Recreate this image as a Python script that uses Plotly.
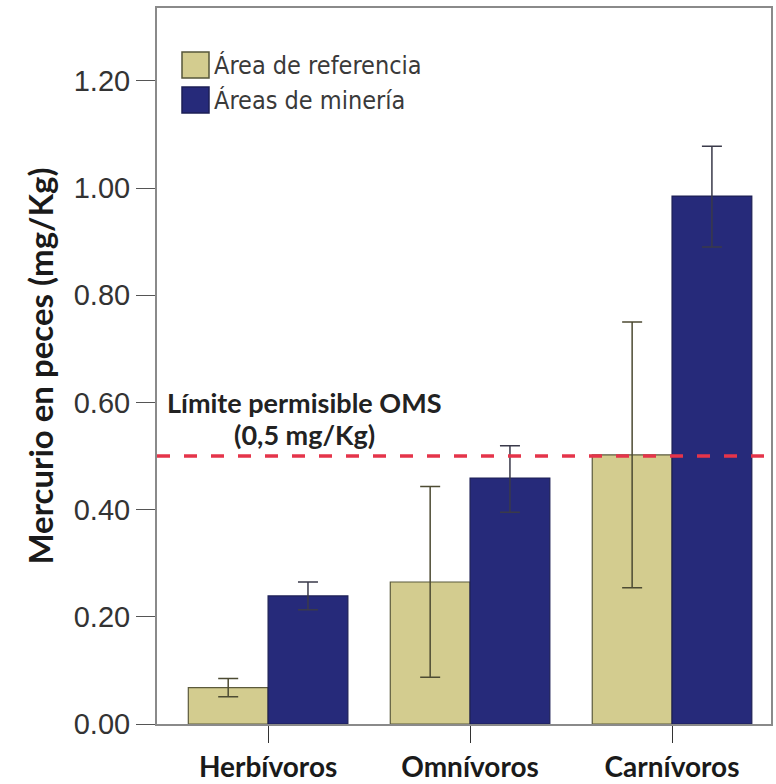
import plotly.graph_objects as go

categories = ["Herbívoros", "Omnívoros", "Carnívoros"]
ref_values = [0.068, 0.265, 0.502]
ref_err = [0.017, 0.178, 0.248]
min_values = [0.239, 0.459, 0.985]
min_err_plus = [0.026, 0.060, 0.093]
min_err_minus = [0.026, 0.064, 0.095]
series_names = ["Área de referencia", "Áreas de minería"]
y_ticks = [0.0, 0.2, 0.4, 0.6, 0.8, 1.0, 1.2]
limit_value = 0.5
limit_text = ["Límite permisible OMS", "(0,5 mg/Kg)"]

tan = "#d3cc8f"
navy = "#262a7a"

fig = go.Figure()
fig.add_trace(go.Bar(
    x=categories, y=ref_values, name=series_names[0],
    marker=dict(color=tan, line=dict(color="#5b5a3c", width=1.2)),
    error_y=dict(type="data", array=ref_err, color="#4d4b33", thickness=1.5, width=10),
))
fig.add_trace(go.Bar(
    x=categories, y=min_values, name=series_names[1],
    marker=dict(color=navy, line=dict(color="#1c1f55", width=1.2)),
    error_y=dict(type="data", array=min_err_plus, arrayminus=min_err_minus,
                 color="#3a3a4a", thickness=1.5, width=10),
))

fig.add_hline(y=limit_value, line=dict(color="#e5344a", width=3.5, dash="13px,14px"))

for txt, shift in zip(limit_text, [54, 22]):
    fig.add_annotation(x=0.18, y=limit_value, xref="x", yref="y",
                       text=txt, showarrow=False, yanchor="middle", yshift=shift,
                       font=dict(family="Lato", size=27, color="#222222", weight="bold"),
                       align="center")

# legend drawn as swatches + text
L, T, W, H = 157, 8, 614, 716
leg_items = [(series_names[0], tan, "#55553a"), (series_names[1], navy, "#1c1f55")]
for i, (name, col, lc) in enumerate(leg_items):
    y0 = 52 + i * 35
    fig.add_shape(type="rect", xref="paper", yref="paper",
                  x0=(182 - L) / W, x1=(209 - L) / W,
                  y0=1 - (y0 + 26 - T) / H, y1=1 - (y0 - T) / H,
                  fillcolor=col, line=dict(color=lc, width=1.5))
    fig.add_annotation(xref="paper", yref="paper",
                       x=(212 - L) / W, y=1 - (y0 + 13 - T) / H,
                       text=name, showarrow=False, xanchor="left", yanchor="middle",
                       font=dict(family="DejaVu Sans Condensed", size=25, color="#3a3a3a"))

fig.update_layout(
    width=776, height=784,
    margin=dict(l=L, r=776 - L - W, t=T, b=784 - T - H),
    paper_bgcolor="white", plot_bgcolor="white",
    barmode="group", bargap=0.21, bargroupgap=0,
    showlegend=False,
    font=dict(family="Liberation Sans", color="#222222"),
)
fig.update_xaxes(
    range=[-0.55, 2.49], showgrid=False, automargin=False,
    showline=True, linecolor="#8a8a8a", linewidth=2, mirror=True,
    ticks="outside", ticklen=17, tickcolor="#333333", tickwidth=1.2,
    tickfont=dict(family="Lato", size=28, color="#1a1a1a", weight="bold"),
)
fig.update_yaxes(
    range=[0, 1.336], showgrid=False, zeroline=False, automargin=False,
    showline=True, linecolor="#8a8a8a", linewidth=2, mirror=True,
    tickvals=y_ticks, tickformat=".2f",
    ticks="outside", ticklen=19, tickcolor="#555555", tickwidth=1.2,
    tickfont=dict(family="Liberation Sans", size=29, color="#333333"),
    title=dict(text="Mercurio en peces (mg/Kg)", standoff=10,
               font=dict(family="Lato", size=33, color="#1a1a1a", weight="bold")),
)

fig.write_html("out.html", config={"displayModeBar": False},
               post_script="document.body.style.margin='0';")
